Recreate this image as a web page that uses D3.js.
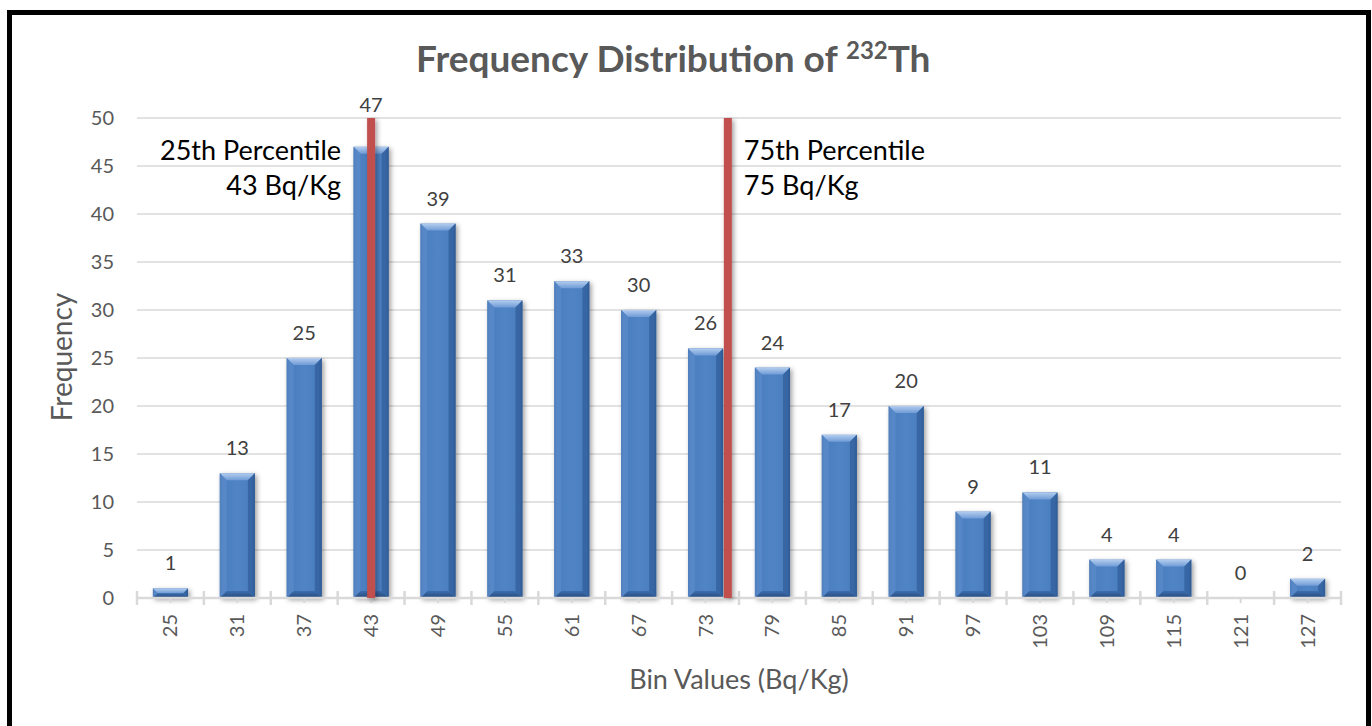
<!DOCTYPE html>
<html>
<head>
<meta charset="utf-8">
<script src="https://cdn.jsdelivr.net/npm/d3@7"></script>
<style>
  html, body { margin: 0; padding: 0; background: #fff; }
  svg { display: block; font-family: Lato, "Open Sans", sans-serif; }
</style>
</head>
<body>
<svg id="chart" width="1372" height="726"></svg>
<script>
// Bin centres (Bq/Kg) and the number of samples falling in each bin
const bins = [25, 31, 37, 43, 49, 55, 61, 67, 73, 79, 85, 91, 97, 103, 109, 115, 121, 127];
const frequency = [1, 13, 25, 47, 39, 31, 33, 30, 26, 24, 17, 20, 9, 11, 4, 4, 0, 2];
const yTickValues = [0, 5, 10, 15, 20, 25, 30, 35, 40, 45, 50];

// Quartile markers
const percentileNames = ["25th Percentile", "75th Percentile"];
const percentileValues = [43, 75];
const percentileSides = ["left", "right"];

const titleMain = "Frequency Distribution of ";
const titleSup = "232";
const titleEnd = "Th";
const yTitle = "Frequency";
const xTitle = "Bin Values (Bq/Kg)";

const plot = { left: 137, right: 1341, top: 118, bottom: 598 };

const svg = d3.select("#chart");
const defs = svg.append("defs");

// soft shadow beneath bars and marker lines
const shadow = defs.append("filter").attr("id", "shadow")
  .attr("filterUnits", "userSpaceOnUse")
  .attr("x", 0).attr("y", 0).attr("width", 1372).attr("height", 726);
shadow.append("feDropShadow").attr("dx", 2).attr("dy", 2)
  .attr("stdDeviation", 2.5).attr("flood-color", "#000").attr("flood-opacity", 0.38);

// face gradient (darker at the left/right edges)
const face = defs.append("linearGradient").attr("id", "face").attr("x1", 0).attr("x2", 1).attr("y1", 0).attr("y2", 0);
[["0%", "#32609c"], ["8%", "#4a7dbe"], ["50%", "#5084c5"], ["92%", "#4a7dbe"], ["100%", "#2c5790"]]
  .forEach(([o, c]) => face.append("stop").attr("offset", o).attr("stop-color", c));
const topBevel = defs.append("linearGradient").attr("id", "topBevel").attr("x1", 0).attr("x2", 0).attr("y1", 0).attr("y2", 1);
[["0%", "#b3cdef"], ["100%", "#6f9bd6"]]
  .forEach(([o, c]) => topBevel.append("stop").attr("offset", o).attr("stop-color", c));
const botBevel = defs.append("linearGradient").attr("id", "botBevel").attr("x1", 0).attr("x2", 0).attr("y1", 0).attr("y2", 1);
[["0%", "#3d6eae"], ["100%", "#24497c"]]
  .forEach(([o, c]) => botBevel.append("stop").attr("offset", o).attr("stop-color", c));

// chart frame
svg.append("rect").attr("x", 9.5).attr("y", 12.5).attr("width", 1359).attr("height", 760)
  .attr("fill", "#fff").attr("stroke", "#000").attr("stroke-width", 5);

// scales
const x = d3.scaleBand().domain(bins).range([plot.left, plot.right]).paddingInner(0).paddingOuter(0);
const y = d3.scaleLinear().domain([0, 50]).range([plot.bottom, plot.top]);
const barW = x.bandwidth() * 0.525;
const cx = d => x(d) + x.bandwidth() / 2;
// continuous position along the binned axis (bin centres)
const xv = d3.scaleLinear().domain([bins[0], bins[bins.length - 1]])
  .range([cx(bins[0]), cx(bins[bins.length - 1])]);

// gridlines
svg.append("g").selectAll("line").data(yTickValues.filter(v => v > 0)).join("line")
  .attr("x1", plot.left).attr("x2", plot.right)
  .attr("y1", d => y(d)).attr("y2", d => y(d))
  .attr("stroke", "#d9d9d9").attr("stroke-width", 1.5);

// y axis labels
const yAxis = svg.append("g").attr("transform", `translate(${plot.left},0)`)
  .call(d3.axisLeft(y).tickValues(yTickValues).tickSize(0).tickPadding(23));
yAxis.select(".domain").remove();
yAxis.selectAll("text").attr("font-size", 20).attr("fill", "#595959").attr("font-family", "Lato");

// bars with bevelled edges
const barG = svg.append("g");
bins.forEach((b, i) => {
  const v = frequency[i];
  if (v <= 0) return;
  const x0 = cx(b) - barW / 2, x1 = cx(b) + barW / 2;
  const y0 = y(v), y1 = y(0);
  const h = y1 - y0;
  const bv = Math.min(7, h / 2);
  const g = barG.append("g").attr("filter", "url(#shadow)");
  g.append("rect").attr("x", x0).attr("y", y0).attr("width", barW).attr("height", h).attr("fill", "url(#face)");
  // top bevel
  g.append("path").attr("d", `M${x0},${y0}L${x1},${y0}L${x1 - bv},${y0 + bv}L${x0 + bv},${y0 + bv}Z`)
    .attr("fill", "url(#topBevel)");
  // left & right bevels
  g.append("path").attr("d", `M${x0},${y0}L${x0 + bv},${y0 + bv}L${x0 + bv},${y1 - bv}L${x0},${y1}Z`)
    .attr("fill", "#5c8cca").attr("opacity", 0.7);
  g.append("path").attr("d", `M${x1},${y0}L${x1 - bv},${y0 + bv}L${x1 - bv},${y1 - bv}L${x1},${y1}Z`)
    .attr("fill", "#2f5d99").attr("opacity", 0.7);
  // bottom bevel
  g.append("path").attr("d", `M${x0},${y1}L${x1},${y1}L${x1 - bv},${y1 - bv}L${x0 + bv},${y1 - bv}Z`)
    .attr("fill", "url(#botBevel)");
});

// x axis line and ticks
const axisG = svg.append("g");
axisG.append("line").attr("x1", plot.left).attr("x2", plot.right)
  .attr("y1", plot.bottom).attr("y2", plot.bottom)
  .attr("stroke", "#d9d9d9").attr("stroke-width", 2.5);
const edges = bins.map(b => x(b)).concat([plot.right]);
axisG.selectAll("line.edge").data(edges).join("line").attr("class", "edge")
  .attr("x1", d => d).attr("x2", d => d).attr("y1", plot.bottom - 7).attr("y2", plot.bottom + 7)
  .attr("stroke", "#d9d9d9").attr("stroke-width", 2.5);
axisG.selectAll("line.mid").data(bins).join("line").attr("class", "mid")
  .attr("x1", d => cx(d)).attr("x2", d => cx(d)).attr("y1", plot.bottom).attr("y2", plot.bottom + 5)
  .attr("stroke", "#d9d9d9").attr("stroke-width", 2);

// rotated category labels
axisG.selectAll("text.cat").data(bins).join("text").attr("class", "cat")
  .attr("transform", d => `translate(${cx(d)},${plot.bottom + 16}) rotate(-90)`)
  .attr("text-anchor", "end").attr("dy", "0.35em")
  .attr("font-size", 20).attr("fill", "#595959")
  .text(d => d);

// percentile marker lines
const markerX = percentileValues.map(v => xv(v));
const markerW = 8;
svg.append("g").selectAll("rect").data(percentileValues).join("rect")
  .attr("x", d => xv(d) - markerW / 2).attr("width", markerW)
  .attr("y", plot.top).attr("height", plot.bottom - plot.top)
  .attr("fill", "#c0504d")
  .attr("filter", "url(#shadow)");

// value labels; a label crossed by a marker line is lifted above the plot
svg.append("g").selectAll("text").data(bins).join("text")
  .attr("x", d => cx(d))
  .attr("y", (d, i) => {
    const crossed = markerX.some(m => Math.abs(m - cx(d)) < 14);
    return crossed ? plot.top - 6 : y(frequency[i]) - 18;
  })
  .attr("text-anchor", "middle").attr("font-size", 20).attr("fill", "#404040")
  .text((d, i) => frequency[i]);

// percentile annotations
percentileNames.forEach((name, i) => {
  const mx = xv(percentileValues[i]);
  const left = percentileSides[i] === "left";
  const tx = left ? mx - 30 : mx + 16;
  const t = svg.append("text")
    .attr("text-anchor", left ? "end" : "start")
    .attr("font-size", 27).attr("fill", "#000");
  t.append("tspan").attr("x", tx).attr("y", plot.top + 42).text(name);
  t.append("tspan").attr("x", tx).attr("y", plot.top + 77).text(`${percentileValues[i]} Bq/Kg`);
});

// chart title
const title = svg.append("text").attr("x", 416).attr("y", 72)
  .attr("font-size", 37).attr("font-weight", "bold").attr("fill", "#595959");
title.append("tspan").text(titleMain);
title.append("tspan").attr("font-size", 24).attr("dy", -13).text(titleSup);
title.append("tspan").attr("dy", 13).text(titleEnd);

// axis titles
svg.append("text").attr("transform", `translate(72,357) rotate(-90)`)
  .attr("text-anchor", "middle").attr("font-size", 28).attr("fill", "#595959").text(yTitle);
svg.append("text").attr("x", (plot.left + plot.right) / 2).attr("y", 689)
  .attr("text-anchor", "middle").attr("font-size", 27).attr("fill", "#595959").text(xTitle);
</script>
</body>
</html>
